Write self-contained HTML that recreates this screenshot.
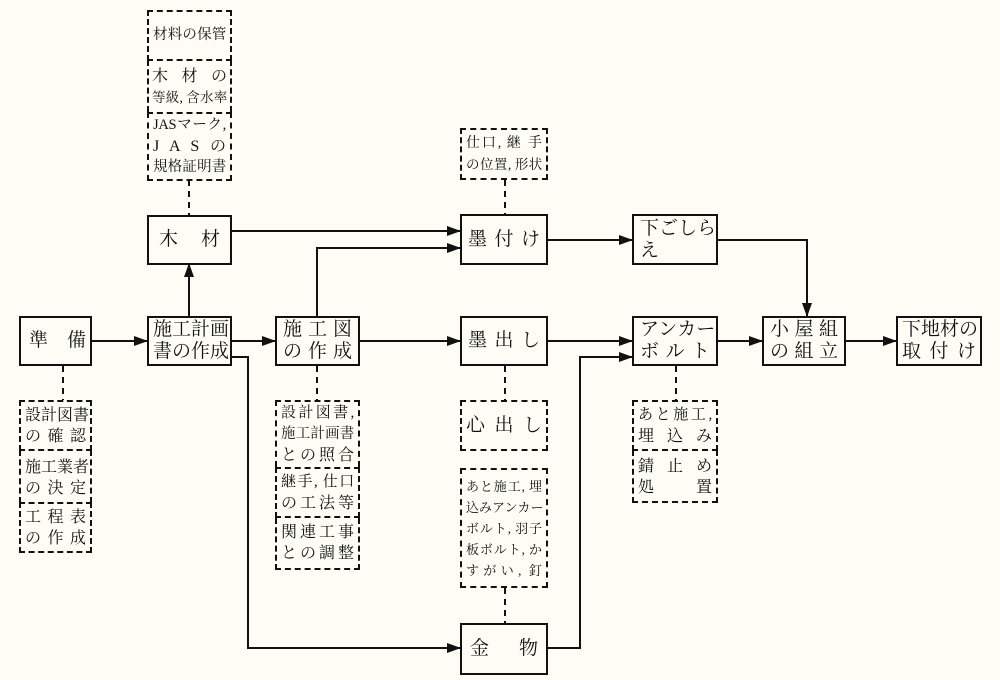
<!DOCTYPE html>
<html><head><meta charset="utf-8"><style>
body{margin:0;background:#fdfdf6;}
#c{position:relative;width:1000px;height:680px;overflow:hidden;font-family:"Liberation Serif","Noto Serif CJK SC","Noto Sans CJK JP",serif;color:#111;}
.b{position:absolute;border:2px solid #111;box-sizing:border-box;display:flex;flex-direction:column;justify-content:center;padding:0 6px;font-size:19px;background:#fdfdf6;}
.b div{text-align:justify;text-align-last:justify;line-height:22px;white-space:nowrap;}
.b div.l{text-align-last:left;}
.d{border-style:dashed;font-size:16px;padding:0 4px;}
.d div{line-height:21px;}
.t{font-size:13.5px;letter-spacing:-0.3px;}
.s{position:absolute;border-left:2px dashed #111;border-right:2px dashed #111;box-sizing:border-box;}
svg{position:absolute;left:0;top:0;}
</style></head><body><div id="c">
<svg width="1000" height="680" viewBox="0 0 1000 680">
<defs><marker id="a" markerWidth="14" markerHeight="10" refX="13" refY="5" orient="auto" markerUnits="userSpaceOnUse"><path d="M0,0 L14,5 L0,10 Z" fill="#111"/></marker></defs>
<g stroke="#111" stroke-width="2" fill="none">
<line x1="92" y1="341" x2="147" y2="341" marker-end="url(#a)"/>
<line x1="232" y1="341" x2="275" y2="341" marker-end="url(#a)"/>
<line x1="189" y1="316" x2="189" y2="264" marker-end="url(#a)"/>
<line x1="232" y1="231" x2="460" y2="231" marker-end="url(#a)"/>
<polyline points="317,316 317,248 460,248" marker-end="url(#a)"/>
<line x1="360" y1="341" x2="460" y2="341" marker-end="url(#a)"/>
<polyline points="232,357 248,357 248,648 460,648" marker-end="url(#a)"/>
<polyline points="548,648 580,648 580,357 632,357" marker-end="url(#a)"/>
<line x1="548" y1="341" x2="632" y2="341" marker-end="url(#a)"/>
<line x1="548" y1="240" x2="632" y2="240" marker-end="url(#a)"/>
<polyline points="718,240 807,240 807,316" marker-end="url(#a)"/>
<line x1="718" y1="341" x2="762" y2="341" marker-end="url(#a)"/>
<line x1="846" y1="341" x2="896" y2="341" marker-end="url(#a)"/>
</g>
<g stroke="#111" stroke-width="2" stroke-dasharray="6,5">
<line x1="189" y1="180" x2="189" y2="215"/>
<line x1="63" y1="366" x2="63" y2="400"/>
<line x1="317" y1="366" x2="317" y2="400"/>
<line x1="505" y1="366" x2="505" y2="400"/>
<line x1="505" y1="588" x2="505" y2="623"/>
<line x1="676" y1="366" x2="676" y2="400"/>
<line x1="505" y1="180" x2="505" y2="214"/>
</g>
</svg>

<div class="s" style="left:147px;top:60px;width:85px;height:52px"></div>
<div class="s" style="left:19px;top:450px;width:73px;height:53px"></div>
<div class="s" style="left:275px;top:518px;width:85px;height:52px;border-bottom:2px dashed #111"></div>
<div class="s" style="left:632px;top:450px;width:86px;height:53px;border-bottom:2px dashed #111"></div>
<div class="s" style="left:275px;top:400px;width:85px;height:67px;border-top:2px dashed #111"></div>

<div class="b d" style="left:147px;top:10px;width:85px;height:51px"><div class="t" style="font-size:14.5px">材料の保管</div></div>
<div class="b d" style="left:147px;top:64px;width:85px;height:46px;border:none;padding:0 5px;background:none"><div>木 材 の</div><div class="t">等級, 含水率</div></div>
<div class="b d" style="left:147px;top:112px;width:85px;height:69px"><div class="t" style="font-size:14.5px">JASマーク,</div><div>J A S の</div><div class="t" style="font-size:14.5px">規格証明書</div></div>

<div class="b" style="left:147px;top:215px;width:85px;height:50px;padding:0 10px"><div>木　材</div></div>
<div class="b" style="left:19px;top:316px;width:73px;height:50px;padding:0 8px"><div>準　備</div></div>
<div class="b" style="left:147px;top:316px;width:85px;height:50px;padding:0 4px"><div>施工計画</div><div>書の作成</div></div>
<div class="b" style="left:275px;top:316px;width:85px;height:50px"><div>施工図</div><div>の作成</div></div>

<div class="b d" style="left:19px;top:400px;width:73px;height:51px"><div>設計図書</div><div>の確認</div></div>
<div class="b d" style="left:19px;top:455px;width:73px;height:45px;border:none;background:none;padding:0 6px"><div>施工業者</div><div>の決定</div></div>
<div class="b d" style="left:19px;top:502px;width:73px;height:51px"><div>工程表</div><div>の作成</div></div>

<div class="b d" style="left:275px;top:402px;width:85px;height:65px;border:none;background:none;padding:0 6px"><div class="t" style="font-size:15px">設計図書,</div><div class="t" style="font-size:14.5px">施工計画書</div><div>との照合</div></div>
<div class="b d" style="left:275px;top:467px;width:85px;height:51px"><div class="t" style="font-size:15px">継手, 仕口</div><div>の工法等</div></div>
<div class="b d" style="left:275px;top:518px;width:85px;height:50px;border:none;background:none;padding:0 6px"><div>関連工事</div><div>との調整</div></div>

<div class="b d" style="left:460px;top:128px;width:88px;height:52px;font-size:14px"><div>仕口, 継 手</div><div class="t">の位置, 形状</div></div>
<div class="b" style="left:460px;top:214px;width:88px;height:51px"><div>墨付け</div></div>
<div class="b" style="left:460px;top:316px;width:88px;height:50px"><div>墨出し</div></div>
<div class="b d" style="left:460px;top:400px;width:88px;height:51px;font-size:19px"><div>心出し</div></div>
<div class="b d" style="left:460px;top:468px;width:88px;height:120px;font-size:13px"><div>あと施工, 埋</div><div>込みアンカー</div><div>ボルト, 羽子</div><div>板ボルト, か</div><div>すがい, 釘</div></div>
<div class="b" style="left:460px;top:623px;width:88px;height:52px;padding:0 8px"><div>金　物</div></div>

<div class="b" style="left:632px;top:214px;width:86px;height:51px"><div>下ごしら</div><div class="l">え</div></div>
<div class="b" style="left:632px;top:316px;width:86px;height:50px"><div>アンカー</div><div>ボルト</div></div>
<div class="b d" style="left:632px;top:400px;width:86px;height:51px"><div class="t" style="font-size:15px">あと施工,</div><div>埋込み</div></div>
<div class="b d" style="left:632px;top:453px;width:86px;height:48px;border:none;background:none;padding:0 6px"><div>錆止め</div><div>処　置</div></div>

<div class="b" style="left:762px;top:316px;width:84px;height:50px"><div>小屋組</div><div>の組立</div></div>
<div class="b" style="left:896px;top:316px;width:86px;height:50px;padding:0 4px"><div>下地材の</div><div>取付け</div></div>
</div></body></html>
